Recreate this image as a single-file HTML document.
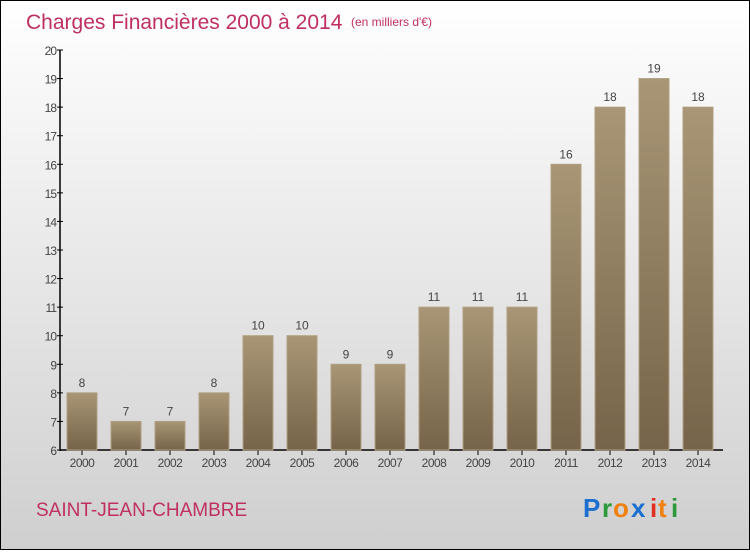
<!DOCTYPE html>
<html><head><meta charset="utf-8"><style>
html,body{margin:0;padding:0}
body{width:750px;height:550px;overflow:hidden;font-family:"Liberation Sans",sans-serif}
#wrap{position:relative;width:748px;height:548px;border:1px solid #000;background:linear-gradient(#ffffff,#cfcfcf)}
</style></head><body>
<div id="wrap">
<svg id="chart" width="748" height="548">
<defs><linearGradient id="bg" x1="0" y1="0" x2="0" y2="1"><stop offset="0" stop-color="#a89676"/><stop offset="1" stop-color="#76644a"/></linearGradient></defs>
<text x="25" y="28" font-size="21" fill="#c0305e">Charges Financières 2000 à 2014</text>
<text x="350" y="25" font-size="12" fill="#c0305e">(en milliers d'€)</text>
<text x="35" y="515" font-size="19" fill="#c0305e">SAINT-JEAN-CHAMBRE</text>
<g font-size="26" font-weight="bold">
<text x="582" y="516" fill="#1a6fd0">P</text><text x="601" y="516" fill="#2a9a3a">r</text><text x="612" y="516" fill="#f08010">o</text><text x="630" y="516" fill="#1a6fd0">x</text><text x="649" y="516" fill="#e03020">i</text><text x="657" y="516" fill="#f08010">t</text><text x="670" y="516" fill="#2a9a3a">i</text>
</g>
<g id="axes"></g><g id="bars"></g>
</svg>
</div>
<script>
const years=["2000","2001","2002","2003","2004","2005","2006","2007","2008","2009","2010","2011","2012","2013","2014"];
const values=[8,7,7,8,10,10,9,9,11,11,11,16,18,19,18];
const yTicks=[6,7,8,9,10,11,12,13,14,15,16,17,18,19,20];
const NS="http://www.w3.org/2000/svg";
const y=v=>449-(v-6)*400/14;
const x=i=>81+44*i;
function mk(t,a,p){const e=document.createElementNS(NS,t);for(const k in a)e.setAttribute(k,a[k]);p.appendChild(e);return e;}
const ax=document.getElementById('axes'),bars=document.getElementById('bars');
const yl=mk('line',{x1:59,y1:y(20),x2:59,y2:450,stroke:'#000','stroke-width':1.5},ax);


const xl=mk('line',{x1:59,y1:449,x2:722,y2:449,stroke:'#000','stroke-width':1.5},ax);


yTicks.forEach(t=>{
 mk('line',{x1:56,y1:y(t),x2:62,y2:y(t),stroke:'#000'},ax);
 const tx=mk('text',{x:55,y:y(t)+5,'text-anchor':'end','font-size':12,fill:'#444','letter-spacing':'-1'},ax);
 tx.textContent=t;
 
 
});
years.forEach((yr,i)=>{
 const v=values[i];
 const r=mk('rect',{x:x(i)-15,y:y(v),width:30,height:449-y(v),fill:'url(#bg)',stroke:'#b0a080','stroke-width':1},bars);
 
 
 const lb=mk('text',{x:x(i),y:y(v)-6,'text-anchor':'middle','font-size':12,fill:'#444'},bars);
 lb.textContent=v;
 
 
 mk('line',{x1:x(i),y1:449,x2:x(i),y2:454,stroke:'#000'},ax);
 const xt=mk('text',{x:x(i),y:466,'text-anchor':'middle','font-size':12,fill:'#444','letter-spacing':'-0.5'},ax);
 xt.textContent=yr;
 
 
});
</script>
</body></html>
